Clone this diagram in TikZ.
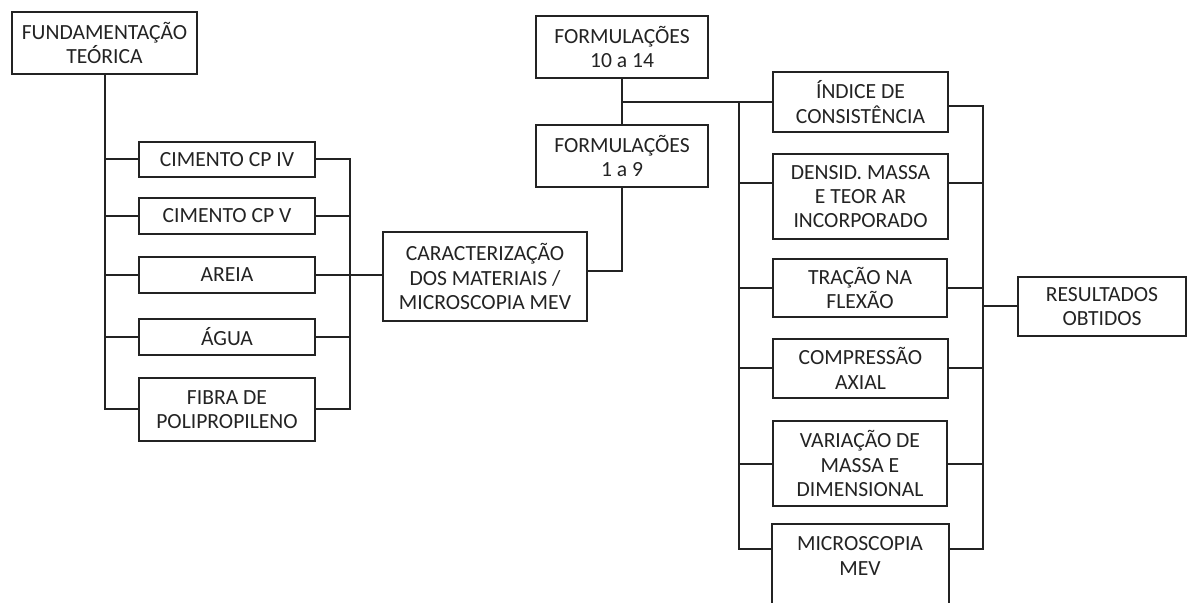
\documentclass[tikz,border=0pt]{standalone}
\usepackage{fontspec}
\setmainfont{Carlito}
\usetikzlibrary{calc}
\definecolor{trait}{RGB}{35, 35, 35}

\begin{document}
\begin{tikzpicture}[x=0.5pt,y=-0.5pt,
		boite/.style 2 args={draw=trait, line width=1pt, align=center, inner sep=0pt,
			minimum width=#1*0.5pt, minimum height=#2*0.5pt, text=trait,
			font=\fontsize{10.8}{12.2}\selectfont},
		lien/.style={draw=trait, line width=1pt}]
				\useasboundingbox (0,0) rectangle (1187,603);
				\clip (0,0) rectangle (1187,603);
				% partie gauche : fondements et materiaux
				\node[boite={185}{62}] (fund) at (104.5,43) {FUNDAMENTAÇÃO\\TEÓRICA};
				\node[boite={176}{35}] (cp4) at (227,159.5) {CIMENTO CP IV};
				\node[boite={176}{36}] (cp5) at (227,216) {CIMENTO CP V};
				\node[boite={176}{36}] (areia) at (227,275) {AREIA};
				\node[boite={176}{36}] (agua) at (227,337) {ÁGUA};
				\node[boite={176}{63}] (fibra) at (227,409.5) {FIBRA DE\\POLIPROPILENO};
				\node[boite={204}{89}] (carac) at (485,276.5) {CARACTERIZAÇÃO\\DOS MATERIAIS /\\MICROSCOPIA MEV};
				% formulations
				\node[boite={172}{62}] (f1014) at (622,47) {FORMULAÇÕES\\10 a 14};
				\node[boite={172}{62}] (f19) at (622,156) {FORMULAÇÕES\\1 a 9};
				% essais
				\node[boite={175}{60}] (indice) at (860.5,102) {ÍNDICE DE\\CONSISTÊNCIA};
				\node[boite={175}{85}] (densid) at (860.5,196.5) {DENSID. MASSA\\E TEOR AR\\INCORPORADO};
				\node[boite={174}{58}] (tracao) at (860,288) {TRAÇÃO NA\\FLEXÃO};
				\node[boite={175}{59}] (compr) at (860.5,368.5) {COMPRESSÃO\\AXIAL};
				\node[boite={174}{85}] (varia) at (860,463.5) {VARIAÇÃO DE\\MASSA E\\DIMENSIONAL};
				\node[boite={175}{62}, draw=none] (mev) at (860,556) {MICROSCOPIA\\MEV};
				\draw[lien] ($(mev.south west)+(0,30)$) |- (mev.north east) -- ++(0,92);
				\node[boite={168}{59}] (res) at (1102,306.5) {RESULTADOS\\OBTIDOS};
				% les liens
				\coordinate (busA) at (350,275);
				\coordinate (busB) at (739,102);
				\coordinate (busC) at (983,306.5);
				\foreach \n in {cp4, cp5, areia, agua, fibra}{
					\draw[lien] (fund.south) |- (\n.west);}
				\foreach \n in {cp4, cp5, agua, fibra}{
					\draw[lien] (\n.east) -| (busA);}
				\draw[lien] (areia.east) -- (areia.east -| carac.west);
				\draw[lien] ($(carac.east)+(0,-5)$) -| (f19.south);
				\draw[lien] (f1014.south) -- (f19.north);
				\draw[lien] (f1014.south |- indice.west) -- (indice.west);
				\foreach \n in {tracao, compr, varia}{
					\draw[lien] (busB) |- (\n.west);
					\draw[lien] (\n.east) -| (busC);}
				\draw[lien] (busB) |- ($(densid.north west)+(0,30)$);
				\draw[lien] ($(densid.north east)+(0,30)$) -| (busC);
				\draw[lien] (busB) |- ($(mev.north west)+(0,25)$);
				\draw[lien] ($(mev.north east)+(0,25)$) -| (busC);
				\draw[lien] ($(indice.east)+(0,4)$) -| (busC);
				\draw[lien] (busC) -- (res.west);
			\end{tikzpicture}
\end{document}
